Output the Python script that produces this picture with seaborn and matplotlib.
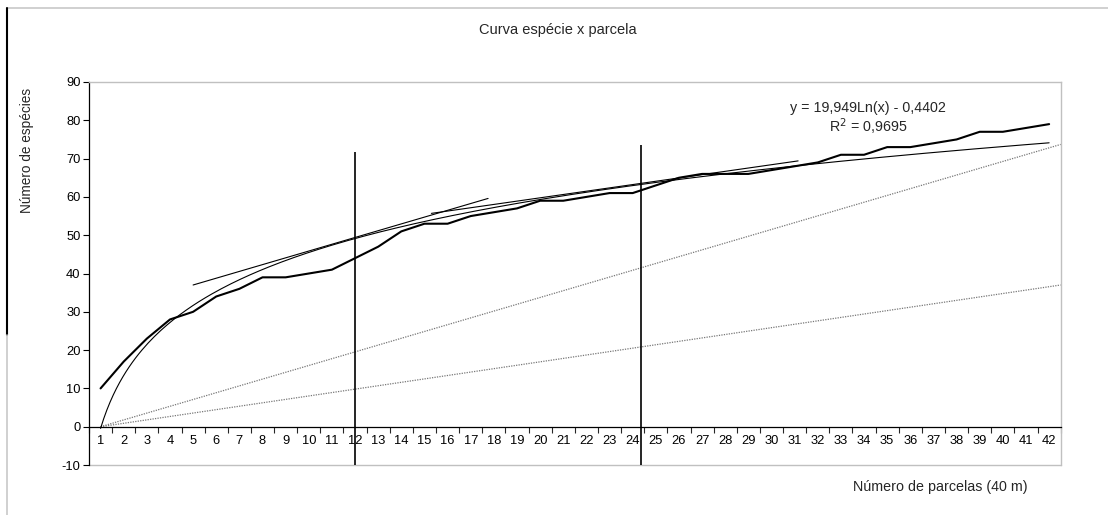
import numpy as np
import pandas as pd
import matplotlib
matplotlib.use("Agg")
import matplotlib.pyplot as plt
from matplotlib.lines import Line2D
import seaborn as sns


# =========================
# dados
# =========================
parcelas = list(range(1, 43))
especies = [10, 17, 23, 28, 30, 34, 36, 39, 39, 40,
            41, 44, 47, 51, 53, 53, 55, 56, 57, 59,
            59, 60, 61, 61, 63, 65, 66, 66, 66, 67,
            68, 69, 71, 71, 73, 73, 74, 75, 77, 77,
            78, 79]

# linha de tendência logarítmica (equação mostrada no gráfico)
coef_a = 19.949
coef_b = -0.4402
r2 = 0.9695

# tangentes desenhadas à mão
tang1_x = [5, 17.75]
tang1_y = [37.0, 59.6]
tang2_x = [15.3, 31.15]
tang2_y = [55.7, 69.4]

# retas pontilhadas de referência
ref_x = [1, 42.5]
ref1_y = [0, 73.7]
ref2_y = [0, 37.0]

# cortes verticais
corte_x = [12, 24.35]
corte_topo = [71.6, 73.5]


sns.set_style("white")
plt.rcParams['font.family'] = ['Liberation Sans', 'DejaVu Sans']
plt.rcParams['axes.unicode_minus'] = False

fig = plt.figure(figsize=(11.08, 5.15), dpi=100)
ax = fig.add_axes([89 / 1108, 1 - 465 / 515, (1060.7 - 89) / 1108, (465 - 82) / 515])

df = pd.DataFrame({"parcela": parcelas, "especies": especies})
x_fit = np.linspace(1, 42, 300)
df_fit = pd.DataFrame({"x": x_fit, "y": coef_a * np.log(x_fit) + coef_b})

# retas pontilhadas
sns.lineplot(x=ref_x, y=ref1_y, ax=ax, color="#777777", lw=0.9, linestyle=(0, (1, 1)))
sns.lineplot(x=ref_x, y=ref2_y, ax=ax, color="#777777", lw=0.9, linestyle=(0, (1, 1)))

# tangentes
sns.lineplot(x=tang1_x, y=tang1_y, ax=ax, color="black", lw=0.8)
sns.lineplot(x=tang2_x, y=tang2_y, ax=ax, color="black", lw=0.8)

# tendência e dados
sns.lineplot(data=df_fit, x="x", y="y", ax=ax, color="black", lw=0.8)
sns.lineplot(data=df, x="parcela", y="especies", ax=ax, color="black", lw=1.5)

ax.vlines(corte_x, -10, corte_topo, color="black", lw=1.2)

ax.set_xlim(0.5, 42.5)
ax.set_ylim(-10, 90)
ax.set_xlabel("")
ax.set_ylabel("")

ax.set_yticks(range(-10, 91, 10))
ax.set_xticks(parcelas)
ax.set_xticklabels([str(p) for p in parcelas])
ax.set_xticks(np.arange(0.5, 43, 1), minor=True)
ax.tick_params(axis="y", direction="out", length=4, width=0.8, pad=2,
               labelsize=9.3, colors="black", left=True)
ax.tick_params(axis="x", which="major", length=0, pad=6, labelsize=9.3, colors="black")
ax.tick_params(axis="x", which="minor", direction="out", length=4, width=0.8, bottom=True)

ax.spines["bottom"].set_position(("data", 0))
ax.spines["bottom"].set_color("black")
ax.spines["bottom"].set_linewidth(0.9)
ax.spines["left"].set_color("black")
ax.spines["left"].set_linewidth(0.9)
for s in ["top", "right"]:
    ax.spines[s].set_color("#c0c0c0")
    ax.spines[s].set_linewidth(1.0)
ax.axhline(-10, color="#c0c0c0", lw=1.0, clip_on=False, zorder=0)

ax.text(34.16, 83.2, f"y = {coef_a:.3f}Ln(x) - {abs(coef_b):.4f}".replace(".", ","),
        ha="center", va="center", fontsize=10.3)
ax.text(34.16, 78.2, f"R$^2$ = {r2:.4f}".replace(".", ","),
        ha="center", va="center", fontsize=10.3)

fig.text(558 / 1108, 1 - 30 / 515, "Curva espécie x parcela", ha="center", va="center", fontsize=10.5)
fig.text(27 / 1108, 1 - 150 / 515, "Número de espécies", ha="center", va="center",
         rotation=90, fontsize=9.8)
fig.text(940 / 1108, 1 - 487 / 515, "Número de parcelas (40 m)", ha="center", va="center", fontsize=10.3)

# moldura externa
fig.add_artist(Line2D([7 / 1108, 1], [1 - 8 / 515] * 2, color="#c8c8c8", lw=1.2))
fig.add_artist(Line2D([7 / 1108] * 2, [1 - 8 / 515, 1 - 335 / 515], color="black", lw=1.5))
fig.add_artist(Line2D([7 / 1108] * 2, [1 - 335 / 515, 0], color="#c8c8c8", lw=1.2))

fig.savefig("out.png", dpi=100)
